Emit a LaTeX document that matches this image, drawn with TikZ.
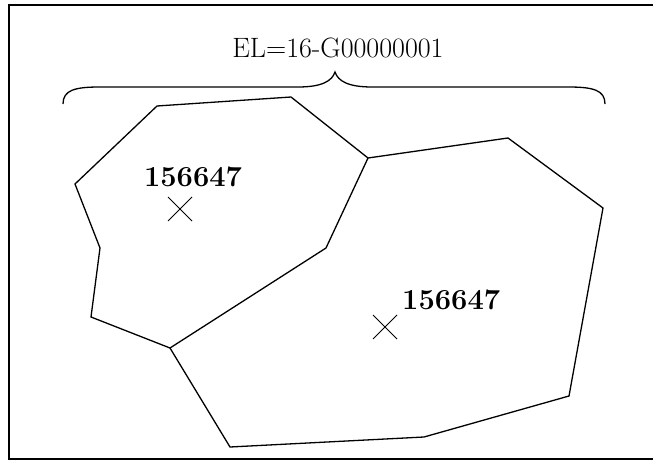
\documentclass[tikz,border=0pt]{standalone}
\usepackage{fontspec}
\usetikzlibrary{shapes.misc}
\tikzset{
    Boundary/.style={line width=1.3pt, line join=miter},
    Frame/.style={line width=1.6pt},
    Mark/.style={draw, cross out, line width=1pt, minimum size=23pt, inner sep=0pt},
    ParcelLabel/.style={font=\fontsize{29}{32}\selectfont\bfseries, inner sep=0pt}
}

\begin{document}
\begin{tikzpicture}[x=1pt, y=-1pt]

    \useasboundingbox (0, 0) rectangle (653, 460);
    \draw[Frame] (9, 5) rectangle (664, 459);

    % Vertices of the parcel boundaries
    \coordinate (P1) at (368, 158);
    \coordinate (P2) at (291, 97);
    \coordinate (P3) at (157, 106);
    \coordinate (P4) at (75, 184);
    \coordinate (P5) at (100, 248);
    \coordinate (P6) at (91, 317);
    \coordinate (P7) at (170, 348);
    \coordinate (P8) at (326, 248);

    \coordinate (Q1) at (508, 138);
    \coordinate (Q2) at (603, 208);
    \coordinate (Q3) at (569, 396);
    \coordinate (Q4) at (424, 437);
    \coordinate (Q5) at (230, 447);

    % Left parcel
    \draw[Boundary] (P1) -- (P2) -- (P3) -- (P4) -- (P5) -- (P6) -- (P7);
    % Common border
    \draw[Boundary] (P7) -- (P8) -- (P1);
    % Right parcel
    \draw[Boundary] (P1) -- (Q1) -- (Q2) -- (Q3) -- (Q4) -- (Q5) -- (P7);

    % Brace over the whole area
    \coordinate (BL) at (63, 104);
    \coordinate (BT) at (335, 72);
    \coordinate (BR) at (605, 104);
    \draw[line width=1.3pt] (BL) .. controls (63, 90) and (75, 87) .. (100, 87)
        -- (298, 87) .. controls (322, 87) and (332, 81) .. (BT)
        .. controls (338, 81) and (348, 87) .. (372, 87)
        -- (568, 87) .. controls (593, 87) and (605, 90) .. (BR);
    \node[font=\fontsize{28}{32}\selectfont, inner sep=0pt, anchor=base] (title) at (338, 58) {EL=16-G00000001};

    % Representative points
    \node[Mark] (m1) at (180, 209) {};
    \node[ParcelLabel, anchor=base] (n1) at (193, 186) {156647};
    \node[Mark] (m2) at (385, 327) {};
    \node[ParcelLabel, anchor=base west] (n2) at (402, 309) {156647};
\end{tikzpicture}
\end{document}
